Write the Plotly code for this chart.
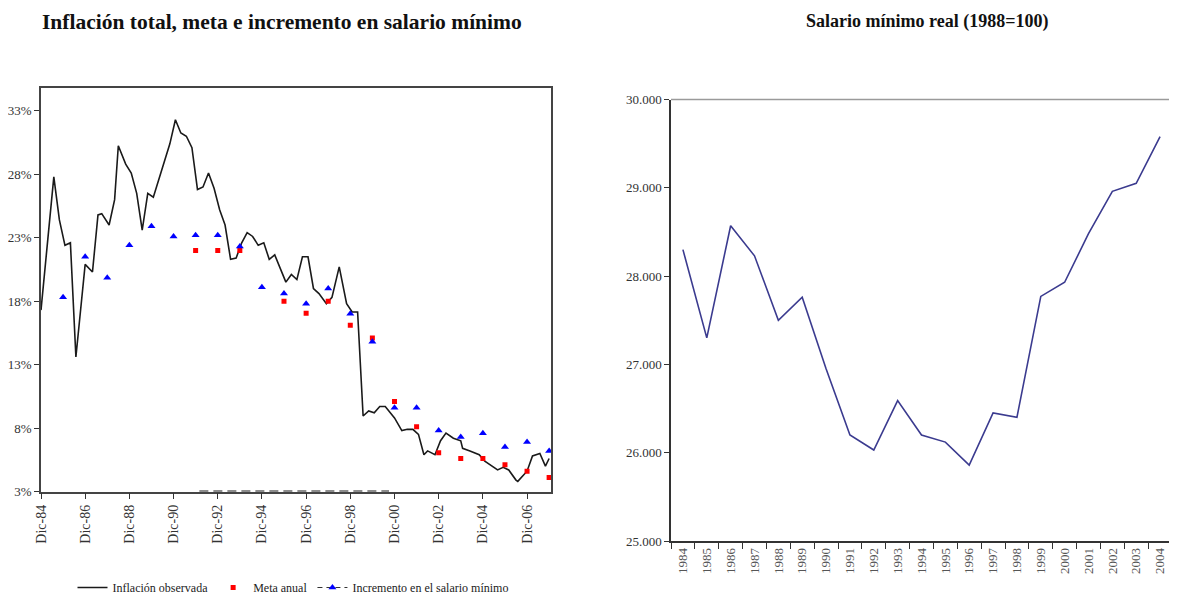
import plotly.graph_objects as go

# ---------------- Left chart data ----------------
infl_dates = ["1984-12", "1985-07", "1985-10", "1986-01", "1986-04", "1986-07", "1986-12",
              "1987-04", "1987-07", "1987-09", "1988-01", "1988-04", "1988-06", "1988-10",
              "1989-01", "1989-04", "1989-07", "1989-10", "1990-01", "1990-10", "1991-01",
              "1991-04", "1991-07", "1991-10", "1992-01", "1992-04", "1992-07", "1992-10",
              "1993-01", "1993-04", "1993-07", "1993-10", "1994-01", "1994-04", "1994-07",
              "1994-10", "1995-01", "1995-04", "1995-07", "1995-10", "1996-01", "1996-04",
              "1996-07", "1996-10", "1997-01", "1997-04", "1997-07", "1997-11", "1998-02",
              "1998-06", "1998-10", "1999-01", "1999-04", "1999-07", "1999-10", "2000-01",
              "2000-04", "2000-07", "2000-12", "2001-04", "2001-07", "2001-10", "2002-01",
              "2002-04", "2002-06", "2002-10", "2003-01", "2003-04", "2003-08", "2003-12",
              "2004-01", "2004-05", "2004-10", "2005-01", "2005-08", "2005-11", "2006-02",
              "2006-06", "2006-07", "2006-12", "2007-03", "2007-07", "2007-10", "2007-12"]
infl_vals = [17.3, 27.8, 24.4, 22.4, 22.6, 13.6, 20.9,
             20.3, 24.8, 24.9, 24.0, 26.0, 30.25, 28.8,
             28.1, 26.5, 23.6, 26.5, 26.2, 30.4, 32.3,
             31.25, 31.0, 30.1, 26.8, 27.0, 28.1, 26.9,
             25.2, 24.0, 21.3, 21.4, 22.6, 23.4, 23.1,
             22.4, 22.6, 21.3, 21.65, 20.5, 19.5, 20.1,
             19.7, 21.5, 21.5, 19.0, 18.6, 17.8, 18.3,
             20.7, 17.8, 17.15, 17.15, 8.95, 9.35, 9.2,
             9.7, 9.7, 8.8, 7.8, 7.9, 7.9, 7.5,
             5.9, 6.2, 5.9, 7.0, 7.6, 7.2, 7.0,
             6.4, 6.2, 5.9, 5.4, 4.7, 4.9, 4.7,
             3.9, 3.8, 4.6, 5.8, 6.0, 5.0, 5.6]

inc_years = list(range(1985, 2008))
incremento = [18.3, 21.5, 19.85, 22.4, 23.9, 23.1, 23.2, 23.2, 22.3, 19.1, 18.6, 17.8,
              19.0, 17.0, 14.8, 9.6, 9.6, 7.8, 7.3, 7.6, 6.5, 6.9, 6.2]

meta_years = [1991, 1992, 1993, 1995, 1996, 1997, 1998, 1999, 2000, 2001, 2002, 2003,
              2004, 2005, 2006, 2007]
meta = [22.0, 22.0, 22.0, 18.0, 17.05, 18.0, 16.1, 15.1, 10.1, 8.1, 6.05, 5.6,
        5.6, 5.1, 4.6, 4.1]

dash_x = ["1992-02", "2000-09"]
dash_y = [3, 3]

left_tick_years = list(range(1984, 2007, 2))
left_tick_text = ["Dic-%02d" % (y % 100) for y in left_tick_years]
left_y_ticks = [3, 8, 13, 18, 23, 28, 33]

# ---------------- Right chart data ----------------
sal_years = [str(y) for y in range(1984, 2005)]
salario = [28300, 27300, 28570, 28230, 27500, 27760, 26950, 26200, 26030, 26590,
           26200, 26120, 25860, 26450, 26400, 27770, 27930, 28480, 28960, 29050, 29580]
right_y_ticks = [25000, 26000, 27000, 28000, 29000, 30000]

SERIF = "Liberation Serif, Times New Roman, serif"
W, H = 1177, 598
OFF = 8  # page body margin offset


def fx(px):
    return (px - OFF) / W


def fy(py):
    return 1 - (py - OFF) / H


fig = go.Figure()

fig.add_trace(go.Scatter(
    x=infl_dates, y=infl_vals, mode="lines", name="Inflación observada",
    line=dict(color="#1a1a1a", width=1.6), xaxis="x", yaxis="y"))

fig.add_trace(go.Scatter(
    x=["%d-12-01" % y for y in meta_years], y=meta, mode="markers", name="Meta anual",
    marker=dict(symbol="square", size=5, color="#ff0000"), xaxis="x", yaxis="y"))

inc_x, inc_y = [], []
for y, v in zip(inc_years, incremento):
    inc_x += ["%d-12-01" % y, "%d-06-01" % (y + 1)]
    inc_y += [v, None]
fig.add_trace(go.Scatter(
    x=inc_x, y=inc_y, mode="lines+markers", name="Incremento en el salario mínimo",
    connectgaps=False,
    line=dict(color="#333333", width=1.2, dash="5px,4px"),
    marker=dict(symbol="triangle-up", size=7, color="#0000ff"), xaxis="x", yaxis="y"))

# white under-stroke hides the axis line where the dashed segment lies
fig.add_trace(go.Scatter(
    x=dash_x, y=dash_y, mode="lines", showlegend=False, hoverinfo="skip",
    line=dict(color="white", width=3), xaxis="x", yaxis="y", cliponaxis=False))
fig.add_trace(go.Scatter(
    x=dash_x, y=dash_y, mode="lines", showlegend=False,
    line=dict(color="#1a1a1a", width=2, dash="9px,5px"), xaxis="x", yaxis="y",
    cliponaxis=False))

fig.add_trace(go.Scatter(
    x=sal_years, y=salario, mode="lines", showlegend=False,
    line=dict(color="#3b3b8f", width=1.6), xaxis="x2", yaxis="y2"))

lx0, lx1 = fx(41), fx(551)
ly0, ly1 = fy(491.5), fy(88)
rx0, rx1 = fx(671), fx(1172)
ry0, ry1 = fy(541), fy(99.5)

tickfont = dict(family=SERIF, size=13, color="#333333")

fig.update_layout(
    template="none",
    width=W, height=H, autosize=False,
    margin=dict(l=0, r=0, t=0, b=0, pad=0, autoexpand=False),
    paper_bgcolor="white", plot_bgcolor="white",
    separators=",.",
    font=dict(family=SERIF, color="#222222"),
    xaxis=dict(domain=[lx0, lx1], type="date", automargin=False, layer="below traces",
               range=["1984-12-01", "2008-01-01"],
               tickmode="array",
               tickvals=["%d-12-01" % y for y in left_tick_years],
               ticktext=left_tick_text, tickangle=-90,
               ticks="outside", ticklen=6, tickcolor="#333333",
               showline=True, linecolor="#444444", linewidth=1.5, mirror=True,
               showgrid=False, zeroline=False,
               tickfont=dict(family=SERIF, size=14, color="#333333"), anchor="y"),
    yaxis=dict(domain=[ly0, ly1], range=[3, 34.8], automargin=False, layer="below traces",
               tickmode="array", tickvals=left_y_ticks,
               ticktext=["%d%%" % v for v in left_y_ticks],
               ticks="outside", ticklen=5, tickcolor="#333333",
               showline=True, linecolor="#444444", linewidth=1.5, mirror=True,
               showgrid=False, zeroline=False, tickfont=tickfont, anchor="x"),
    xaxis2=dict(domain=[rx0, rx1], type="category", automargin=False,
                range=[-0.5, len(sal_years) - 0.5],
                tickangle=-90, ticks="outside", ticklen=6, tickcolor="#333333",
                tickson="boundaries",
                showline=True, linecolor="#333333", linewidth=1.5,
                showgrid=False, zeroline=False,
                tickfont=dict(family=SERIF, size=13, color="#555555"), anchor="y2"),
    yaxis2=dict(domain=[ry0, ry1], range=[25000, 30000], automargin=False,
                tickmode="array", tickvals=right_y_ticks,
                ticktext=["%d.000" % (v // 1000) for v in right_y_ticks],
                ticks="outside", ticklen=5, tickcolor="#333333",
                showline=True, linecolor="#333333", linewidth=1.5,
                showgrid=False, zeroline=False, tickfont=tickfont, anchor="x2"),
    legend=dict(orientation="h", x=fx(293), xanchor="center", y=fy(602), yanchor="bottom",
                font=dict(family=SERIF, size=12, color="#222222"),
                bgcolor="rgba(0,0,0,0)", itemwidth=30, tracegroupgap=0),
    showlegend=True,
    annotations=[
        dict(text="<b>Inflación total, meta e incremento en salario mínimo</b>",
             x=fx(282), y=fy(22), xref="paper", yref="paper",
             xanchor="center", yanchor="middle", showarrow=False,
             font=dict(family=SERIF, size=21.5, color="#111111")),
        dict(text="<b>Salario mínimo real (1988=100)</b>",
             x=fx(927), y=fy(22), xref="paper", yref="paper",
             xanchor="center", yanchor="middle", showarrow=False,
             font=dict(family=SERIF, size=18, color="#111111")),
    ],
    shapes=[
        dict(type="line", xref="paper", yref="paper", x0=rx0, x1=rx1, y0=ry1, y1=ry1,
             line=dict(color="#9a9a9a", width=1.5)),
        dict(type="line", xref="paper", yref="paper", x0=rx1, x1=rx1, y0=ry0, y1=ry1,
             line=dict(color="#9a9a9a", width=1.5)),
    ],
)

fig.write_html("out.html")
